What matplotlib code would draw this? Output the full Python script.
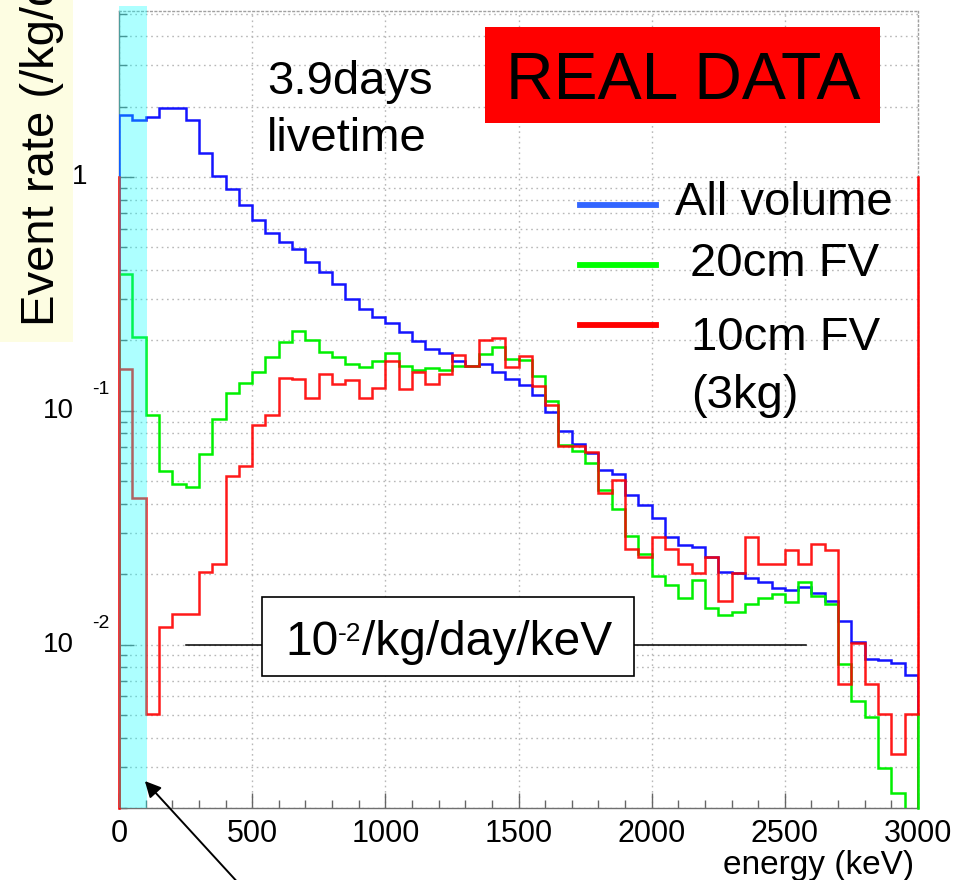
import numpy as np
import matplotlib
matplotlib.use("Agg")
import matplotlib.pyplot as plt
import matplotlib.transforms as mtransforms
from matplotlib.patches import Rectangle, FancyArrowPatch
from matplotlib.lines import Line2D
from matplotlib.ticker import FixedLocator, NullFormatter

plt.rcParams['font.family'] = ['Liberation Sans', 'DejaVu Sans']

# 60 bins of 50 keV between 0 and 3000 keV
bin_edges_kev = np.arange(0, 3001, 50)

# event rate (/kg/day/keV) per bin
all_volume = [1.84, 1.76, 1.80, 1.97, 1.98, 1.76, 1.27, 1.01, 0.889, 0.759,
              0.655, 0.578, 0.526, 0.492, 0.435, 0.394, 0.348, 0.300, 0.272, 0.253,
              0.238, 0.217, 0.199, 0.184, 0.176, 0.164, 0.155, 0.158, 0.147, 0.137,
              0.129, 0.117, 0.0984, 0.0822, 0.0721, 0.0659, 0.0560, 0.0536, 0.0438, 0.0397,
              0.0348, 0.0288, 0.0266, 0.0261, 0.0238, 0.0204, 0.0203, 0.0193, 0.0185, 0.0175,
              0.0172, 0.0177, 0.0167, 0.0153, 0.0126, 0.0103, 0.00868, 0.00856, 0.00835, 0.0074]

fv_20cm = [0.384, 0.2065, 0.0962, 0.0554, 0.0486, 0.0472, 0.0655, 0.0921, 0.119, 0.131,
           0.147, 0.170, 0.1965, 0.220, 0.200, 0.179, 0.170, 0.159, 0.154, 0.164,
           0.177, 0.156, 0.149, 0.152, 0.149, 0.156, 0.155, 0.175, 0.188, 0.166,
           0.165, 0.141, 0.110, 0.0711, 0.0676, 0.0597, 0.0459, 0.0380, 0.0290, 0.0244,
           0.0197, 0.0179, 0.0158, 0.0188, 0.0144, 0.0134, 0.0138, 0.0149, 0.0158, 0.0164,
           0.0152, 0.0185, 0.0162, 0.0149, 0.00828, 0.00573, 0.00489, 0.00297, 0.00232, 0.0015]

fv_10cm = [0.151, 0.0424, 0.00507, 0.0119, 0.0135, 0.0135, 0.0204, 0.0221, 0.0528, 0.0578,
           0.0871, 0.0958, 0.138, 0.137, 0.113, 0.143, 0.130, 0.136, 0.113, 0.125,
           0.164, 0.124, 0.147, 0.130, 0.144, 0.1735, 0.155, 0.200, 0.2045, 0.154,
           0.172, 0.128, 0.106, 0.0704, 0.0704, 0.0664, 0.0445, 0.0507, 0.0256, 0.0237,
           0.0288, 0.0256, 0.0222, 0.0203, 0.0236, 0.0153, 0.0203, 0.0288, 0.0222, 0.0222,
           0.0255, 0.0222, 0.0270, 0.0255, 0.0068, 0.0102, 0.0068, 0.00507, 0.0034, 0.00507]

series_labels = ["All volume", "20cm FV", "10cm FV\n(3kg)"]
x_ticks = [0, 500, 1000, 1500, 2000, 2500, 3000]
y_decades = [0.01, 0.1, 1]
reference_rate = 0.01
low_energy_band = (0, 107)

Y_MIN, Y_MAX = 0.002, 5.13
W, H = 958, 880

fig = plt.figure(figsize=(W / 100, H / 100), dpi=100)
fig.patch.set_facecolor('white')


def fx(px):
    return px / W


def fy(py):
    return 1 - py / H


# yellow strip behind the y label
fig.add_artist(Rectangle((0, fy(342)), fx(73), 342 / H, transform=fig.transFigure,
                         facecolor='#fdfde2', edgecolor='none', zorder=0))

ax_l, ax_r, ax_t, ax_b = 119, 918, 11, 808
ax = fig.add_axes([fx(ax_l), fy(ax_b), (ax_r - ax_l) / W, (ax_b - ax_t) / H])
ax.set_facecolor('none')
ax.set_xlim(0, 3000)
ax.set_yscale('log')
ax.set_ylim(Y_MIN, Y_MAX)

blue, green, red = '#1414ff', '#00f000', '#ff0000'
ax.stairs(all_volume, bin_edges_kev, baseline=Y_MIN, color=blue, lw=1.8, zorder=3)
ax.stairs(fv_20cm, bin_edges_kev, baseline=Y_MIN, color=green, lw=1.8, zorder=4)
ax.stairs(fv_10cm, bin_edges_kev, baseline=Y_MIN, color=red, lw=1.8, zorder=5, alpha=0.9)

# edge lines of the histogram frame
ax.plot([0, 0], [Y_MIN, 1], color=red, lw=1.8, zorder=5, clip_on=False)
ax.plot([3000, 3000], [Y_MIN, fv_10cm[-1]], color=green, lw=1.8, zorder=5, clip_on=False)
ax.plot([3000, 3000], [fv_10cm[-1], 1], color=red, lw=1.8, zorder=5, clip_on=False)

# low-energy region
ax.axvspan(*low_energy_band, ymin=0, ymax=1.006, color='#00ffff', alpha=0.32, lw=0,
           zorder=6, clip_on=False)

# reference level line
ax.plot([252, 2580], [reference_rate, reference_rate], color='black', lw=1.1, zorder=7)

# ticks and grid
ax.set_xticks(x_ticks)
ax.set_xticks(np.arange(0, 3001, 100), minor=True)
ax.set_xticklabels([str(t) for t in x_ticks], fontsize=22)
ax.yaxis.set_major_locator(FixedLocator(y_decades))
minor_y = [m * 10.0 ** e for e in (-3, -2, -1, 0) for m in range(2, 10)
           if Y_MIN <= m * 10.0 ** e <= Y_MAX]
ax.yaxis.set_minor_locator(FixedLocator(minor_y))
ax.yaxis.set_major_formatter(NullFormatter())
ax.yaxis.set_minor_formatter(NullFormatter())
ax.tick_params(axis='both', which='major', direction='in', length=11, width=1,
               color='#666666', pad=8, labelcolor='black')
ax.tick_params(axis='both', which='minor', direction='in', length=6, width=1,
               color='#666666')
grid_style = dict(color='#b8b8b8', linestyle=(0, (1.2, 2.6)), linewidth=1.0)
ax.grid(True, which='major', axis='x', **grid_style)
ax.grid(True, which='both', axis='y', **grid_style)
ax.set_axisbelow(True)

for side in ('bottom', 'left'):
    ax.spines[side].set_color('#707070')
    ax.spines[side].set_linewidth(1.0)
for side in ('top', 'right'):
    ax.spines[side].set_color('#a0a0a0')
    ax.spines[side].set_linestyle((0, (1.2, 2.0)))
    ax.spines[side].set_linewidth(1.0)

# y tick labels in the 10^n style
ytrans = mtransforms.blended_transform_factory(fig.transFigure, ax.transData)
fig.text(fx(80), 1, "1", transform=ytrans, fontsize=20, ha='center', va='center')
for dec, exp in ((0.1, "-1"), (0.01, "-2")):
    fig.text(fx(58.5), dec, "10", transform=ytrans, fontsize=20, ha='center', va='center')
    up = mtransforms.ScaledTranslation(0, 0.21, fig.dpi_scale_trans)
    fig.text(fx(101), dec, exp, transform=ytrans + up, fontsize=14, ha='center', va='center')

# axis titles
fig.text(fx(914), fy(874), "energy (keV)", fontsize=24, ha='right', va='baseline')
fig.text(fx(54), fy(326), "Event rate (/kg/day/keV)", fontsize=34, rotation=90,
         rotation_mode='anchor', ha='left', va='baseline')

# livetime note
fig.text(fx(267), fy(94), "3.9days", fontsize=34, ha='left', va='baseline')
fig.text(fx(267), fy(151), "livetime", fontsize=34, ha='left', va='baseline')

# REAL DATA banner
fig.add_artist(Rectangle((fx(485), fy(123)), (880 - 485) / W, (123 - 27) / H,
                         transform=fig.transFigure, facecolor='#ff0000',
                         edgecolor='none', zorder=8))
fig.text(fx(683), fy(99), "REAL DATA", fontsize=47.5, ha='center', va='baseline', zorder=9)

# legend
legend_rows = [('#3366ff', 205, 675, 215), ('#00ff00', 265, 690, 276),
               ('#ff0000', 325, 691, 350)]
for (col, y_line, x_txt, y_txt), label in zip(legend_rows, series_labels):
    fig.add_artist(Line2D([fx(580), fx(656)], [fy(y_line), fy(y_line)],
                          transform=fig.transFigure, color=col, lw=4.2, zorder=8))
    for k, line in enumerate(label.split("\n")):
        fig.text(fx(x_txt), fy(y_txt + 58 * k), line, fontsize=34, ha='left',
                 va='baseline', zorder=9)

# reference level label box
fig.add_artist(Rectangle((fx(262), fy(676)), (634 - 262) / W, (676 - 597) / H,
                         transform=fig.transFigure, facecolor='white',
                         edgecolor='black', lw=1.2, zorder=8))
fig.text(fx(285), fy(655), "10", fontsize=34.5, ha='left', va='baseline', zorder=9)
fig.text(fx(338), fy(641), "-2", fontsize=19, ha='left', va='baseline', zorder=9)
fig.text(fx(362), fy(655), "/kg/day/keV", fontsize=34.5, ha='left', va='baseline', zorder=9)

# arrow pointing at the low-energy region
fig.add_artist(FancyArrowPatch((fx(252), fy(898)), (fx(143), fy(779)),
                               transform=fig.transFigure, arrowstyle='-|>',
                               mutation_scale=24, color='black', lw=1.4, zorder=9))

fig.savefig("out.png", dpi=100)
